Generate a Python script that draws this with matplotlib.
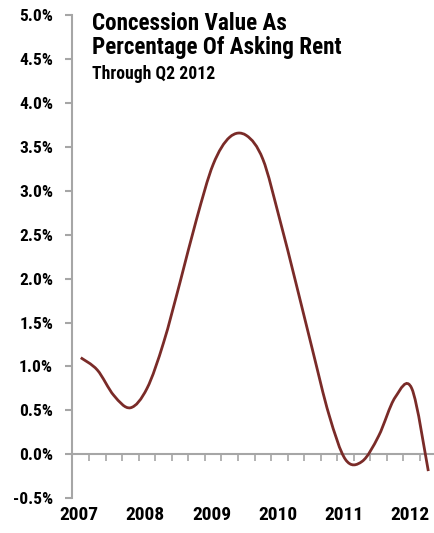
import numpy as np
import matplotlib
matplotlib.use('Agg')
import matplotlib.pyplot as plt
from matplotlib.path import Path
from matplotlib.patches import PathPatch
from matplotlib.ticker import FuncFormatter
import matplotlib.transforms as mtransforms

# quarterly data, Q1 2007 .. Q2 2012 (percent)
quarters = ['2007Q1', '2007Q2', '2007Q3', '2007Q4',
            '2008Q1', '2008Q2', '2008Q3', '2008Q4',
            '2009Q1', '2009Q2', '2009Q3', '2009Q4',
            '2010Q1', '2010Q2', '2010Q3', '2010Q4',
            '2011Q1', '2011Q2', '2011Q3', '2011Q4',
            '2012Q1', '2012Q2']
concession = [1.10, 0.96, 0.67, 0.53, 0.75, 1.27, 1.96, 2.68, 3.30, 3.61, 3.63,
              3.36, 2.69, 1.95, 1.19, 0.45, -0.06, -0.08, 0.21, 0.65, 0.75, -0.19]
years = ['2007', '2008', '2009', '2010', '2011', '2012']
y_ticks = [-0.5, 0.0, 0.5, 1.0, 1.5, 2.0, 2.5, 3.0, 3.5, 4.0, 4.5, 5.0]

plt.rcParams['font.family'] = ['Roboto Condensed', 'DejaVu Sans']
LINE = '#7a2b28'
GRAY = '#a6a6a6'
W = 'bold'

fig = plt.figure(figsize=(4.35, 5.33), dpi=100)
ax = fig.add_axes([72.5 / 435, 34.7 / 533, 364.1 / 435, 483.3 / 533])

# smoothed line (bezier through the quarterly points, like a smoothed excel line)
x = np.arange(len(concession)) + 0.5
y = np.array(concession)
xp = np.concatenate([[x[0]], x, [x[-1]]])
yp = np.concatenate([[y[0]], y, [y[-1]]])
verts = [(x[0], y[0])]
codes = [Path.MOVETO]
for i in range(len(x) - 1):
    c1 = (x[i] + (xp[i + 2] - xp[i]) / 6, y[i] + (yp[i + 2] - yp[i]) / 6)
    c2 = (x[i + 1] - (xp[i + 3] - xp[i + 1]) / 6, y[i + 1] - (yp[i + 3] - yp[i + 1]) / 6)
    verts += [c1, c2, (x[i + 1], y[i + 1])]
    codes += [Path.CURVE4] * 3
ax.add_patch(PathPatch(Path(verts, codes), facecolor='none', edgecolor=LINE,
                       lw=2.0, capstyle='butt', zorder=3))

ax.set_xlim(0, len(quarters))
ax.set_ylim(-0.5, 5.0)

# spines
for s in ['top', 'right']:
    ax.spines[s].set_visible(False)
ax.spines['left'].set_color(GRAY)
ax.spines['left'].set_linewidth(1.5)
ax.spines['bottom'].set_position(('data', 0))
ax.spines['bottom'].set_color(GRAY)
ax.spines['bottom'].set_linewidth(1.5)

ax.set_yticks(y_ticks)
ax.yaxis.set_major_formatter(FuncFormatter(lambda v, p: '%.1f%%' % v))
ax.tick_params(axis='y', direction='out', length=5, width=1.5, color=GRAY,
               labelsize=12.5, pad=9)
for lab in ax.get_yticklabels():
    lab.set_fontweight(W)

ax.set_xticks(np.arange(1, len(quarters)))
ax.set_xticklabels([])
ax.tick_params(axis='x', direction='out', length=5, width=1.2, color=GRAY)

# year labels below the plot
trans = mtransforms.blended_transform_factory(ax.transData, fig.transFigure)
for k, yr in enumerate(years):
    ax.text(0.4 + 4 * k, 1 - 515 / 533, yr, transform=trans, ha='center', va='center',
            fontsize=14, fontweight=W)

fig.text(92 / 435, 1 - 30 / 533, 'Concession Value As', ha='left', va='baseline',
         fontsize=16.7, fontweight=W)
fig.text(92 / 435, 1 - 54 / 533, 'Percentage Of Asking Rent', ha='left', va='baseline',
         fontsize=16.7, fontweight=W)
fig.text(92 / 435, 1 - 79 / 533, 'Through Q2 2012', ha='left', va='baseline',
         fontsize=12.7, fontweight=W)

fig.savefig('out.png', dpi=100)
